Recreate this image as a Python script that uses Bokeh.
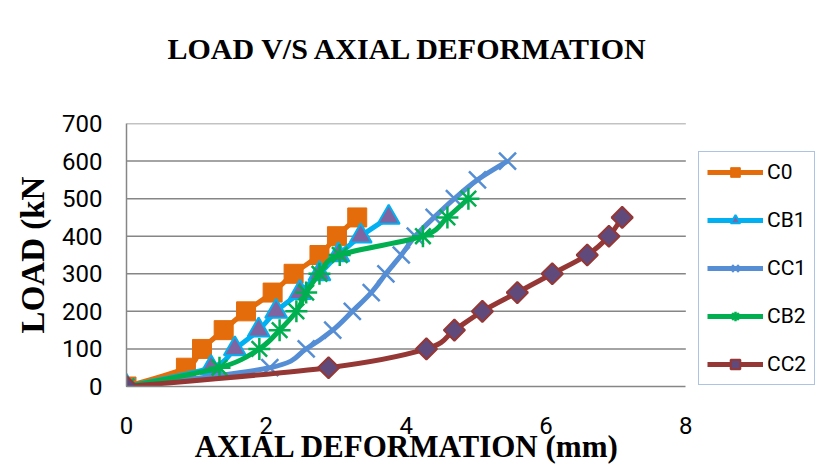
import numpy as np
from bokeh.plotting import figure
from bokeh.models import Legend, LegendItem, FixedTicker, ColumnDataSource
from bokeh.embed import file_html
from bokeh.resources import INLINE

# ---- data ----
loads_10 = [0, 50, 100, 150, 200, 250, 300, 350, 400, 450]

c0_x = [0, 0.85, 1.08, 1.39, 1.71, 2.09, 2.39, 2.76, 3.01, 3.30]
c0_y = loads_10

cb1_x = [0, 1.21, 1.55, 1.89, 2.14, 2.48, 2.76, 3.03, 3.35, 3.75]
cb1_y = loads_10

cc1_x = [0, 2.05, 2.57, 2.95, 3.23, 3.50, 3.71, 3.93, 4.13, 4.40, 4.69, 5.02, 5.45]
cc1_y = [0, 50, 100, 150, 200, 250, 300, 350, 400, 450, 500, 550, 600]

cb2_x = [0, 1.33, 1.90, 2.19, 2.43, 2.57, 2.76, 3.05, 4.24, 4.59, 4.89]
cb2_y = [0, 50, 100, 150, 200, 250, 300, 350, 400, 450, 500]

cc2_x = [0, 2.89, 4.29, 4.69, 5.09, 5.59, 6.09, 6.59, 6.90, 7.09]
cc2_y = loads_10

x_ticks = [0, 2, 4, 6, 8]
y_ticks = [0, 100, 200, 300, 400, 500, 600, 700]

series_names = ["C0", "CB1", "CC1", "CB2", "CC2"]

TICK_FONT = "Roboto"
SERIF = "Liberation Serif"
GRID = "#868686"

X_MIN, X_MAX = x_ticks[0], x_ticks[-1]
# the plot frame also holds the legend to the right of the x axis
X_VIEW_END = 9.912


def smooth_segments(xs, ys):
    """Cubic Bezier segments through the data points (Excel-like smoothed line)."""
    pts = np.column_stack([np.asarray(xs, float), np.asarray(ys, float)])
    n = len(pts)
    seg = dict(x0=[], y0=[], x1=[], y1=[], cx0=[], cy0=[], cx1=[], cy1=[])
    for i in range(n - 1):
        p0 = pts[i - 1] if i > 0 else pts[i]
        p1 = pts[i]
        p2 = pts[i + 1]
        p3 = pts[i + 2] if i + 2 < n else pts[i + 1]
        c1 = p1 + (p2 - p0) / 6.0
        c2 = p2 - (p3 - p1) / 6.0
        seg["x0"].append(p1[0]); seg["y0"].append(p1[1])
        seg["x1"].append(p2[0]); seg["y1"].append(p2[1])
        seg["cx0"].append(c1[0]); seg["cy0"].append(c1[1])
        seg["cx1"].append(c2[0]); seg["cy1"].append(c2[1])
    return ColumnDataSource(seg)


p = figure(
    width=819, height=466,
    x_range=(X_MIN, X_VIEW_END), y_range=(y_ticks[0], y_ticks[-1]),
    output_backend="svg", toolbar_location=None,
    min_border_left=126, min_border_right=0,
    min_border_top=123, min_border_bottom=70,
    background_fill_color="white", border_fill_color="white",
)
p.outline_line_color = None

p.title.text = "LOAD V/S AXIAL DEFORMATION\n"
p.title.text_font = SERIF
p.title.text_font_style = "bold"
p.title.text_font_size = "30px"
p.title.align = "left"
p.title.offset = 41
p.title.text_color = "black"
p.title.standoff = 52

# axes
p.xaxis.ticker = FixedTicker(ticks=x_ticks)
p.yaxis.ticker = FixedTicker(ticks=y_ticks)
p.xaxis.bounds = (X_MIN, X_MAX)
p.yaxis.bounds = (y_ticks[0], y_ticks[-1])
for ax in (p.xaxis[0], p.yaxis[0]):
    ax.axis_line_color = GRID
    ax.axis_line_width = 1.5
    ax.major_tick_line_color = None
    ax.minor_tick_line_color = None
    ax.major_tick_out = 0
    ax.major_tick_in = 0
    ax.major_label_text_font = TICK_FONT
    ax.major_label_text_font_size = "24px"
    ax.major_label_text_color = "black"
    ax.axis_label_text_font = SERIF
    ax.axis_label_text_font_style = "bold"
    ax.axis_label_text_color = "black"

p.xaxis.major_label_standoff = 30
p.yaxis.major_label_standoff = 24
# trailing no-break spaces shift the centred label over the 0-8 axis extent
p.xaxis.axis_label = "AXIAL DEFORMATION (mm)" + "\u00a0" * 17
p.xaxis.axis_label_text_font_size = "31px"
p.xaxis.axis_label_standoff = -8
p.yaxis.axis_label = "LOAD (kN"
p.yaxis.axis_label_text_font_size = "33px"
p.yaxis.axis_label_standoff = 8

# horizontal grid lines, only across the x axis extent
p.xgrid.grid_line_color = None
p.ygrid.grid_line_color = None
grid_y = y_ticks[1:]
p.segment(x0=[X_MIN] * len(grid_y), x1=[X_MAX] * len(grid_y), y0=grid_y, y1=grid_y,
          line_color=GRID, line_width=1.5)

LW = 5
items = []

# C0
r_l = p.bezier(source=smooth_segments(c0_x, c0_y), x0="x0", y0="y0", x1="x1", y1="y1",
               cx0="cx0", cy0="cy0", cx1="cx1", cy1="cy1", line_color="#E46C0A", line_width=LW)
r_m = p.scatter(c0_x, c0_y, marker="square", size=19, fill_color="#E46C0A", line_color="#E46C0A")
items.append(LegendItem(label=series_names[0], renderers=[r_l, r_m]))

# CB1
r_l = p.bezier(source=smooth_segments(cb1_x, cb1_y), x0="x0", y0="y0", x1="x1", y1="y1",
               cx0="cx0", cy0="cy0", cx1="cx1", cy1="cy1", line_color="#00B0F0", line_width=LW)
r_m = p.scatter(cb1_x, cb1_y, marker="triangle", size=22, fill_color="#8064A2",
                line_color="#00B0F0", line_width=2)
items.append(LegendItem(label=series_names[1], renderers=[r_l, r_m]))

# CC1
r_l = p.bezier(source=smooth_segments(cc1_x, cc1_y), x0="x0", y0="y0", x1="x1", y1="y1",
               cx0="cx0", cy0="cy0", cx1="cx1", cy1="cy1", line_color="#558ED5", line_width=LW)
r_m = p.scatter(cc1_x, cc1_y, marker="x", size=24, line_color="#558ED5", line_width=2.5)
items.append(LegendItem(label=series_names[2], renderers=[r_l, r_m]))

# CB2
r_l = p.bezier(source=smooth_segments(cb2_x, cb2_y), x0="x0", y0="y0", x1="x1", y1="y1",
               cx0="cx0", cy0="cy0", cx1="cx1", cy1="cy1", line_color="#00B050", line_width=LW)
r_m = p.scatter(cb2_x, cb2_y, marker="asterisk", size=22, line_color="#00B050", line_width=2.5)
items.append(LegendItem(label=series_names[3], renderers=[r_l, r_m]))

# CC2
r_l = p.bezier(source=smooth_segments(cc2_x, cc2_y), x0="x0", y0="y0", x1="x1", y1="y1",
               cx0="cx0", cy0="cy0", cx1="cx1", cy1="cy1", line_color="#953735", line_width=LW)
r_m = p.scatter(cc2_x, cc2_y, marker="square", angle=np.pi / 4, size=15,
                fill_color="#604A7B", line_color="#953735", line_width=2)
items.append(LegendItem(label=series_names[4], renderers=[r_l, r_m]))

legend = Legend(items=items, location=(572, 1))
legend.label_text_font = TICK_FONT
legend.label_text_font_size = "21px"
legend.label_text_color = "black"
legend.label_standoff = 4
legend.label_height = 24
legend.glyph_height = 24
legend.glyph_width = 56
legend.spacing = 24
legend.padding = 8
legend.margin = 0
legend.border_line_color = "#5B87C5"
legend.border_line_width = 1.5
legend.background_fill_color = "white"
legend.background_fill_alpha = 1.0
p.add_layout(legend)

open("out.html", "w").write(file_html(p, INLINE))
